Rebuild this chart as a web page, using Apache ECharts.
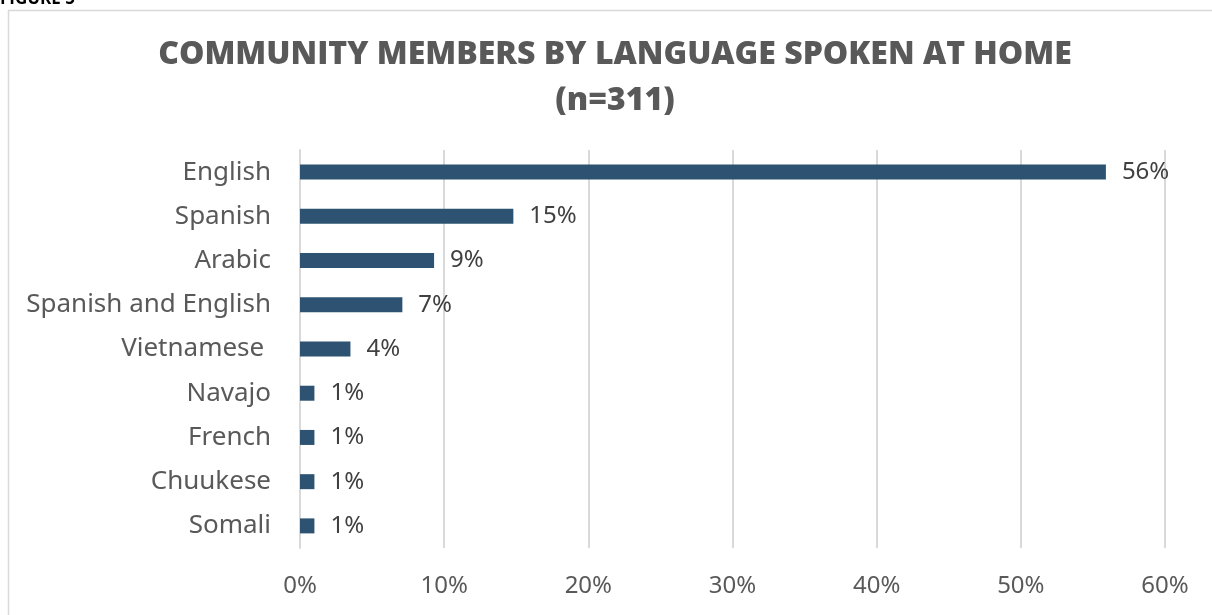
<!DOCTYPE html>
<html>
<head>
<meta charset="utf-8">
<script src="https://cdn.jsdelivr.net/npm/echarts@6/dist/echarts.min.js"></script>
<style>
	html, body { margin: 0; padding: 0; background: #fff; }
	#chart { width: 1212px; height: 615px; }
</style>
</head>
<body>
<div id="chart"></div>
<script>
	// categories top to bottom, share of respondents (%)
	var languages = ['English', 'Spanish', 'Arabic', 'Spanish and English', 'Vietnamese ', 'Navajo', 'French', 'Chuukese', 'Somali'];
	var shares = [55.9, 14.8, 9.3, 7.1, 3.5, 1.0, 1.0, 1.0, 1.0];
	var xTicks = [0, 10, 20, 30, 40, 50, 60];

	var titleFont = '800 32px "Open Sans"';

	var myChart = echarts.init(document.getElementById('chart'));
	var option = {
		animation: false,
		graphic: [{
			type: 'rect',
			shape: { x: 8.5, y: 10.5, width: 1220, height: 620 },
			style: { fill: 'none', stroke: '#d9d9d9', lineWidth: 1.5 }
		}, {
			type: 'text',
			left: 0,
			top: -9,
			style: { text: 'FIGURE 5', font: 'bold 17px "Open Sans"', fill: '#000' }
		}, {
			// chart title, two centred lines
			type: 'text',
			x: 615,
			y: 55,
			style: { text: 'COMMUNITY MEMBERS BY LANGUAGE SPOKEN AT HOME', font: titleFont, fill: '#595959', align: 'center', verticalAlign: 'middle' }
		}, {
			type: 'text',
			x: 615,
			y: 101,
			style: { text: '(n=311)', font: titleFont, fill: '#595959', align: 'center', verticalAlign: 'middle' }
		}],
		grid: {
			left: 300,
			right: 47,
			top: 150,
			bottom: 67
		},
		xAxis: {
			type: 'value',
			min: 0,
			max: 60,
			interval: 10,
			axisLine: { show: false },
			axisTick: { show: false },
			splitLine: { lineStyle: { color: '#d9d9d9', width: 2 } },
			axisLabel: {
				margin: 26,
				fontFamily: 'Noto Sans',
				fontSize: 24,
				color: '#595959',
				formatter: function (v) {
					return xTicks.indexOf(v) >= 0 ? v + '%' : '';
				}
			}
		},
		yAxis: {
			type: 'category',
			inverse: true,
			data: languages,
			axisLine: { show: true, lineStyle: { color: '#d9d9d9', width: 2 } },
			axisTick: { show: false },
			axisLabel: {
				margin: 29,
				fontFamily: 'Noto Sans',
				fontSize: 26,
				color: '#595959'
			}
		},
		series: [{
			type: 'bar',
			data: shares,
			barWidth: 15,
			itemStyle: { color: '#2e5372' },
			label: {
				show: true,
				position: 'right',
				distance: 16,
				fontFamily: 'Noto Sans',
				fontSize: 24,
				color: '#404040',
				formatter: function (p) {
					return Math.round(p.value) + '%';
				}
			}
		}]
	};
	myChart.setOption(option);
</script>
</body>
</html>
